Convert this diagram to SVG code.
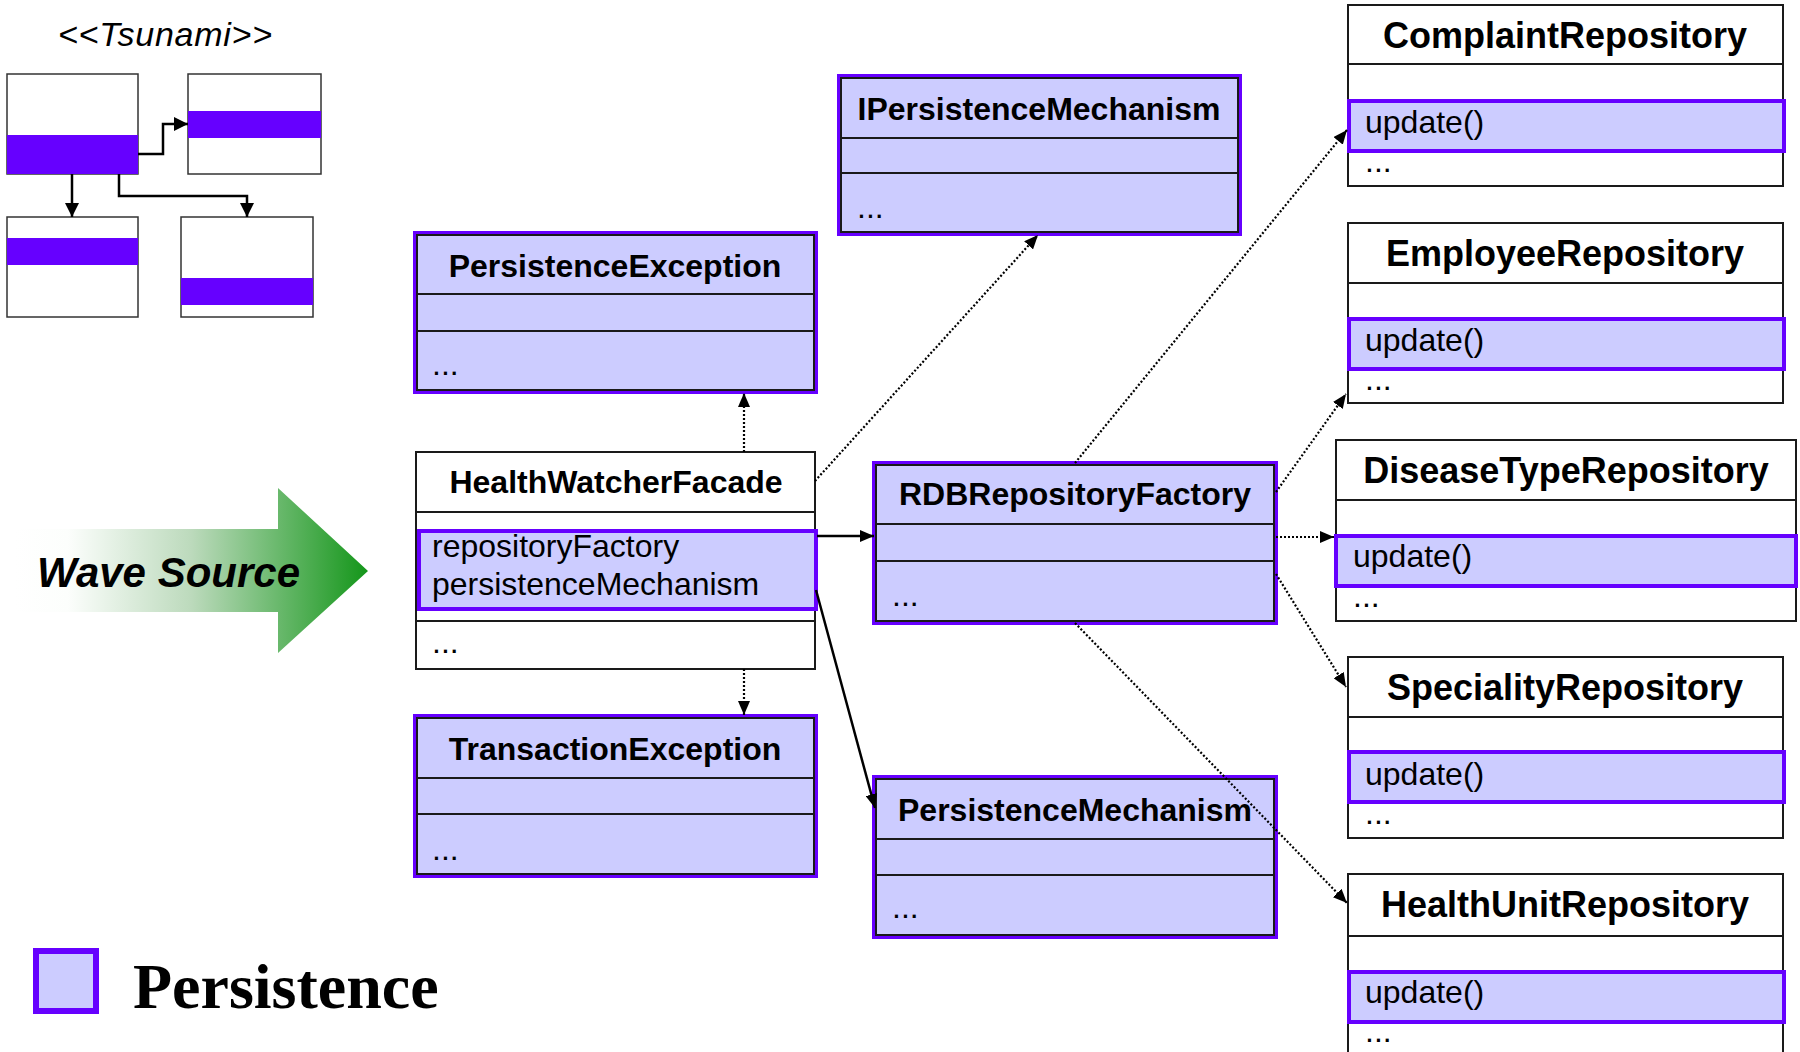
<svg xmlns="http://www.w3.org/2000/svg" width="1800" height="1052" viewBox="0 0 1800 1052">
<defs>
  <style>
    .title{font-family:"Liberation Sans",Arial,sans-serif;font-weight:bold;font-size:32px;fill:#000;text-anchor:middle}
    .rtitle{font-family:"Liberation Sans",Arial,sans-serif;font-weight:bold;font-size:36px;fill:#000;text-anchor:middle}
    .txt{font-family:"Liberation Sans",Arial,sans-serif;font-size:32px;fill:#000}
    .pbox{fill:#CCCCFF;stroke:#6600FF;stroke-width:4}
    .pin{fill:none;stroke:#1a1a1a;stroke-width:2}
    .wbox{fill:#fff;stroke:#1a1a1a;stroke-width:2}
    .sep{stroke:#1a1a1a;stroke-width:2}
    .hl{fill:#CCCCFF;stroke:#6600FF;stroke-width:4}
    .dot{stroke:#000;stroke-width:2.2;stroke-dasharray:2 2;fill:none}
    .solid{stroke:#000;stroke-width:2.5;fill:none}
    .band{fill:#6600FF}
    .mini{fill:#fff;stroke:#333;stroke-width:1.5}
  </style>
  <marker id="ah" viewBox="0 0 14 12" refX="14" refY="6" markerWidth="14" markerHeight="12" markerUnits="userSpaceOnUse" orient="auto">
    <path d="M0,0 L14,6 L0,12 z" fill="#000"/>
  </marker>
  <marker id="ahs" viewBox="0 0 14 14" refX="14" refY="7" markerWidth="14" markerHeight="14" markerUnits="userSpaceOnUse" orient="auto">
    <path d="M0,0 L14,7 L0,14 z" fill="#000"/>
  </marker>
  <linearGradient id="wave" x1="15" y1="0" x2="368" y2="0" gradientUnits="userSpaceOnUse">
    <stop offset="0" stop-color="#ffffff"/>
    <stop offset="0.15" stop-color="#fcfefc"/>
    <stop offset="0.5" stop-color="#bcdabc"/>
    <stop offset="1" stop-color="#14961a"/>
  </linearGradient>
</defs>
<rect width="1800" height="1052" fill="#fff"/>

<!-- Tsunami legend mini diagram -->
<g id="tsunami">
  <text x="58" y="46" font-family="Liberation Sans, Arial, sans-serif" font-style="italic" font-size="34" textLength="214">&lt;&lt;Tsunami&gt;&gt;</text>
  <rect class="mini" x="7" y="74" width="131" height="100"/>
  <rect class="band" x="7" y="135" width="131" height="39"/>
  <rect class="mini" x="188" y="74" width="133" height="100"/>
  <rect class="band" x="188" y="111" width="133" height="27"/>
  <rect class="mini" x="7" y="217" width="131" height="100"/>
  <rect class="band" x="7" y="238" width="131" height="27"/>
  <rect class="mini" x="181" y="217" width="132" height="100"/>
  <rect class="band" x="181" y="278" width="132" height="27"/>
  <polyline class="solid" points="138,154 163,154 163,124 188,124" marker-end="url(#ahs)" stroke-width="2"/>
  <polyline class="solid" points="72,174 72,217" marker-end="url(#ahs)" stroke-width="2"/>
  <polyline class="solid" points="119,174 119,196 247,196 247,217" marker-end="url(#ahs)" stroke-width="2"/>
</g>

<!-- Wave source arrow -->
<g id="wave-source">
  <polygon points="15,529 278,529 278,488 368,571 278,653 278,612 15,612" fill="url(#wave)"/>
  <text x="37" y="587" font-family="Liberation Sans, Arial, sans-serif" font-weight="bold" font-style="italic" font-size="42">Wave Source</text>
</g>

<!-- PersistenceException -->
<g id="PersistenceException">
  <rect class="pbox" x="415" y="233" width="401" height="159"/>
  <rect class="pin" x="417" y="235" width="397" height="155"/>
  <line class="sep" x1="417" y1="294" x2="814" y2="294"/>
  <line class="sep" x1="417" y1="331" x2="814" y2="331"/>
  <text class="title" x="615" y="277">PersistenceException</text>
  <text class="txt" x="432" y="375">...</text>
</g>

<!-- TransactionException -->
<g id="TransactionException">
  <rect class="pbox" x="415" y="716" width="401" height="160"/>
  <rect class="pin" x="417" y="718" width="397" height="156"/>
  <line class="sep" x1="417" y1="778" x2="814" y2="778"/>
  <line class="sep" x1="417" y1="814" x2="814" y2="814"/>
  <text class="title" x="615" y="760">TransactionException</text>
  <text class="txt" x="432" y="860">...</text>
</g>

<!-- IPersistenceMechanism -->
<g id="IPersistenceMechanism">
  <rect class="pbox" x="839" y="76" width="401" height="158"/>
  <rect class="pin" x="841" y="78" width="397" height="154"/>
  <line class="sep" x1="841" y1="138" x2="1238" y2="138"/>
  <line class="sep" x1="841" y1="173" x2="1238" y2="173"/>
  <text class="title" x="1039" y="120">IPersistenceMechanism</text>
  <text class="txt" x="857" y="218">...</text>
</g>

<!-- HealthWatcherFacade -->
<g id="HealthWatcherFacade">
  <rect class="wbox" x="416" y="452" width="399" height="217"/>
  <line class="sep" x1="416" y1="512" x2="815" y2="512"/>
  <rect class="hl" x="419" y="531" width="397" height="78"/>
  <line class="sep" x1="416" y1="621" x2="815" y2="621"/>
  <text class="title" x="616" y="493">HealthWatcherFacade</text>
  <text class="txt" x="432" y="557">repositoryFactory</text>
  <text class="txt" x="432" y="595">persistenceMechanism</text>
  <text class="txt" x="432" y="653">...</text>
</g>

<!-- RDBRepositoryFactory -->
<g id="RDBRepositoryFactory">
  <rect class="pbox" x="874" y="463" width="402" height="160"/>
  <rect class="pin" x="876" y="465" width="398" height="156"/>
  <line class="sep" x1="876" y1="524" x2="1274" y2="524"/>
  <line class="sep" x1="876" y1="561" x2="1274" y2="561"/>
  <text class="title" x="1075" y="505">RDBRepositoryFactory</text>
  <text class="txt" x="892" y="606">...</text>
</g>

<!-- PersistenceMechanism -->
<g id="PersistenceMechanism">
  <rect class="pbox" x="874" y="777" width="402" height="160"/>
  <rect class="pin" x="876" y="779" width="398" height="156"/>
  <line class="sep" x1="876" y1="839" x2="1274" y2="839"/>
  <line class="sep" x1="876" y1="875" x2="1274" y2="875"/>
  <text class="title" x="1075" y="821">PersistenceMechanism</text>
  <text class="txt" x="892" y="918">...</text>
</g>

<!-- ComplaintRepository -->
<g id="ComplaintRepository">
  <rect class="wbox" x="1348" y="5" width="435" height="181"/>
  <line class="sep" x1="1348" y1="64" x2="1783" y2="64"/>
  <rect class="hl" x="1349" y="101" width="435" height="50"/>
  <text class="rtitle" x="1565" y="48">ComplaintRepository</text>
  <text class="txt" x="1365" y="133">update()</text>
  <text class="txt" x="1365" y="172">...</text>
</g>

<!-- EmployeeRepository -->
<g id="EmployeeRepository">
  <rect class="wbox" x="1348" y="223" width="435" height="180"/>
  <line class="sep" x1="1348" y1="283" x2="1783" y2="283"/>
  <rect class="hl" x="1349" y="319" width="435" height="50"/>
  <text class="rtitle" x="1565" y="266">EmployeeRepository</text>
  <text class="txt" x="1365" y="351">update()</text>
  <text class="txt" x="1365" y="390">...</text>
</g>

<!-- DiseaseTypeRepository -->
<g id="DiseaseTypeRepository">
  <rect class="wbox" x="1336" y="440" width="460" height="181"/>
  <line class="sep" x1="1336" y1="500" x2="1796" y2="500"/>
  <rect class="hl" x="1336" y="536" width="460" height="50"/>
  <text class="rtitle" x="1566" y="483">DiseaseTypeRepository</text>
  <text class="txt" x="1353" y="567">update()</text>
  <text class="txt" x="1353" y="607">...</text>
</g>

<!-- SpecialityRepository -->
<g id="SpecialityRepository">
  <rect class="wbox" x="1348" y="657" width="435" height="181"/>
  <line class="sep" x1="1348" y1="717" x2="1783" y2="717"/>
  <rect class="hl" x="1349" y="752" width="435" height="50"/>
  <text class="rtitle" x="1565" y="700">SpecialityRepository</text>
  <text class="txt" x="1365" y="785">update()</text>
  <text class="txt" x="1365" y="824">...</text>
</g>

<!-- HealthUnitRepository -->
<g id="HealthUnitRepository">
  <rect class="wbox" x="1348" y="874" width="435" height="185"/>
  <line class="sep" x1="1348" y1="936" x2="1783" y2="936"/>
  <rect class="hl" x="1349" y="972" width="435" height="50"/>
  <text class="rtitle" x="1565" y="917">HealthUnitRepository</text>
  <text class="txt" x="1365" y="1003">update()</text>
  <text class="txt" x="1365" y="1042">...</text>
</g>

<!-- Connectors -->
<g id="connectors">
  <line class="dot" x1="744" y1="452" x2="744" y2="393" marker-end="url(#ah)"/>
  <line class="dot" x1="744" y1="669" x2="744" y2="715" marker-end="url(#ah)"/>
  <line class="dot" x1="815" y1="481" x2="1038" y2="235" marker-end="url(#ah)"/>
  <line class="solid" x1="817" y1="536" x2="874" y2="536" marker-end="url(#ah)"/>
  <line class="solid" x1="816" y1="590" x2="875" y2="808" marker-end="url(#ah)"/>
  <line class="dot" x1="1075" y1="463" x2="1347" y2="130" marker-end="url(#ah)"/>
  <line class="dot" x1="1276" y1="492" x2="1346" y2="394" marker-end="url(#ah)"/>
  <line class="dot" x1="1276" y1="537" x2="1334" y2="537" marker-end="url(#ah)"/>
  <line class="dot" x1="1276" y1="574" x2="1346" y2="687" marker-end="url(#ah)"/>
  <line class="dot" x1="1075" y1="623" x2="1347" y2="903" marker-end="url(#ah)"/>
</g>

<!-- Legend -->
<g id="legend">
  <rect x="36" y="951" width="60" height="60" fill="#CCCCFF" stroke="#6600FF" stroke-width="6"/>
  <text x="133" y="1008" font-family="Liberation Serif, Times New Roman, serif" font-weight="bold" font-size="64">Persistence</text>
</g>
</svg>
